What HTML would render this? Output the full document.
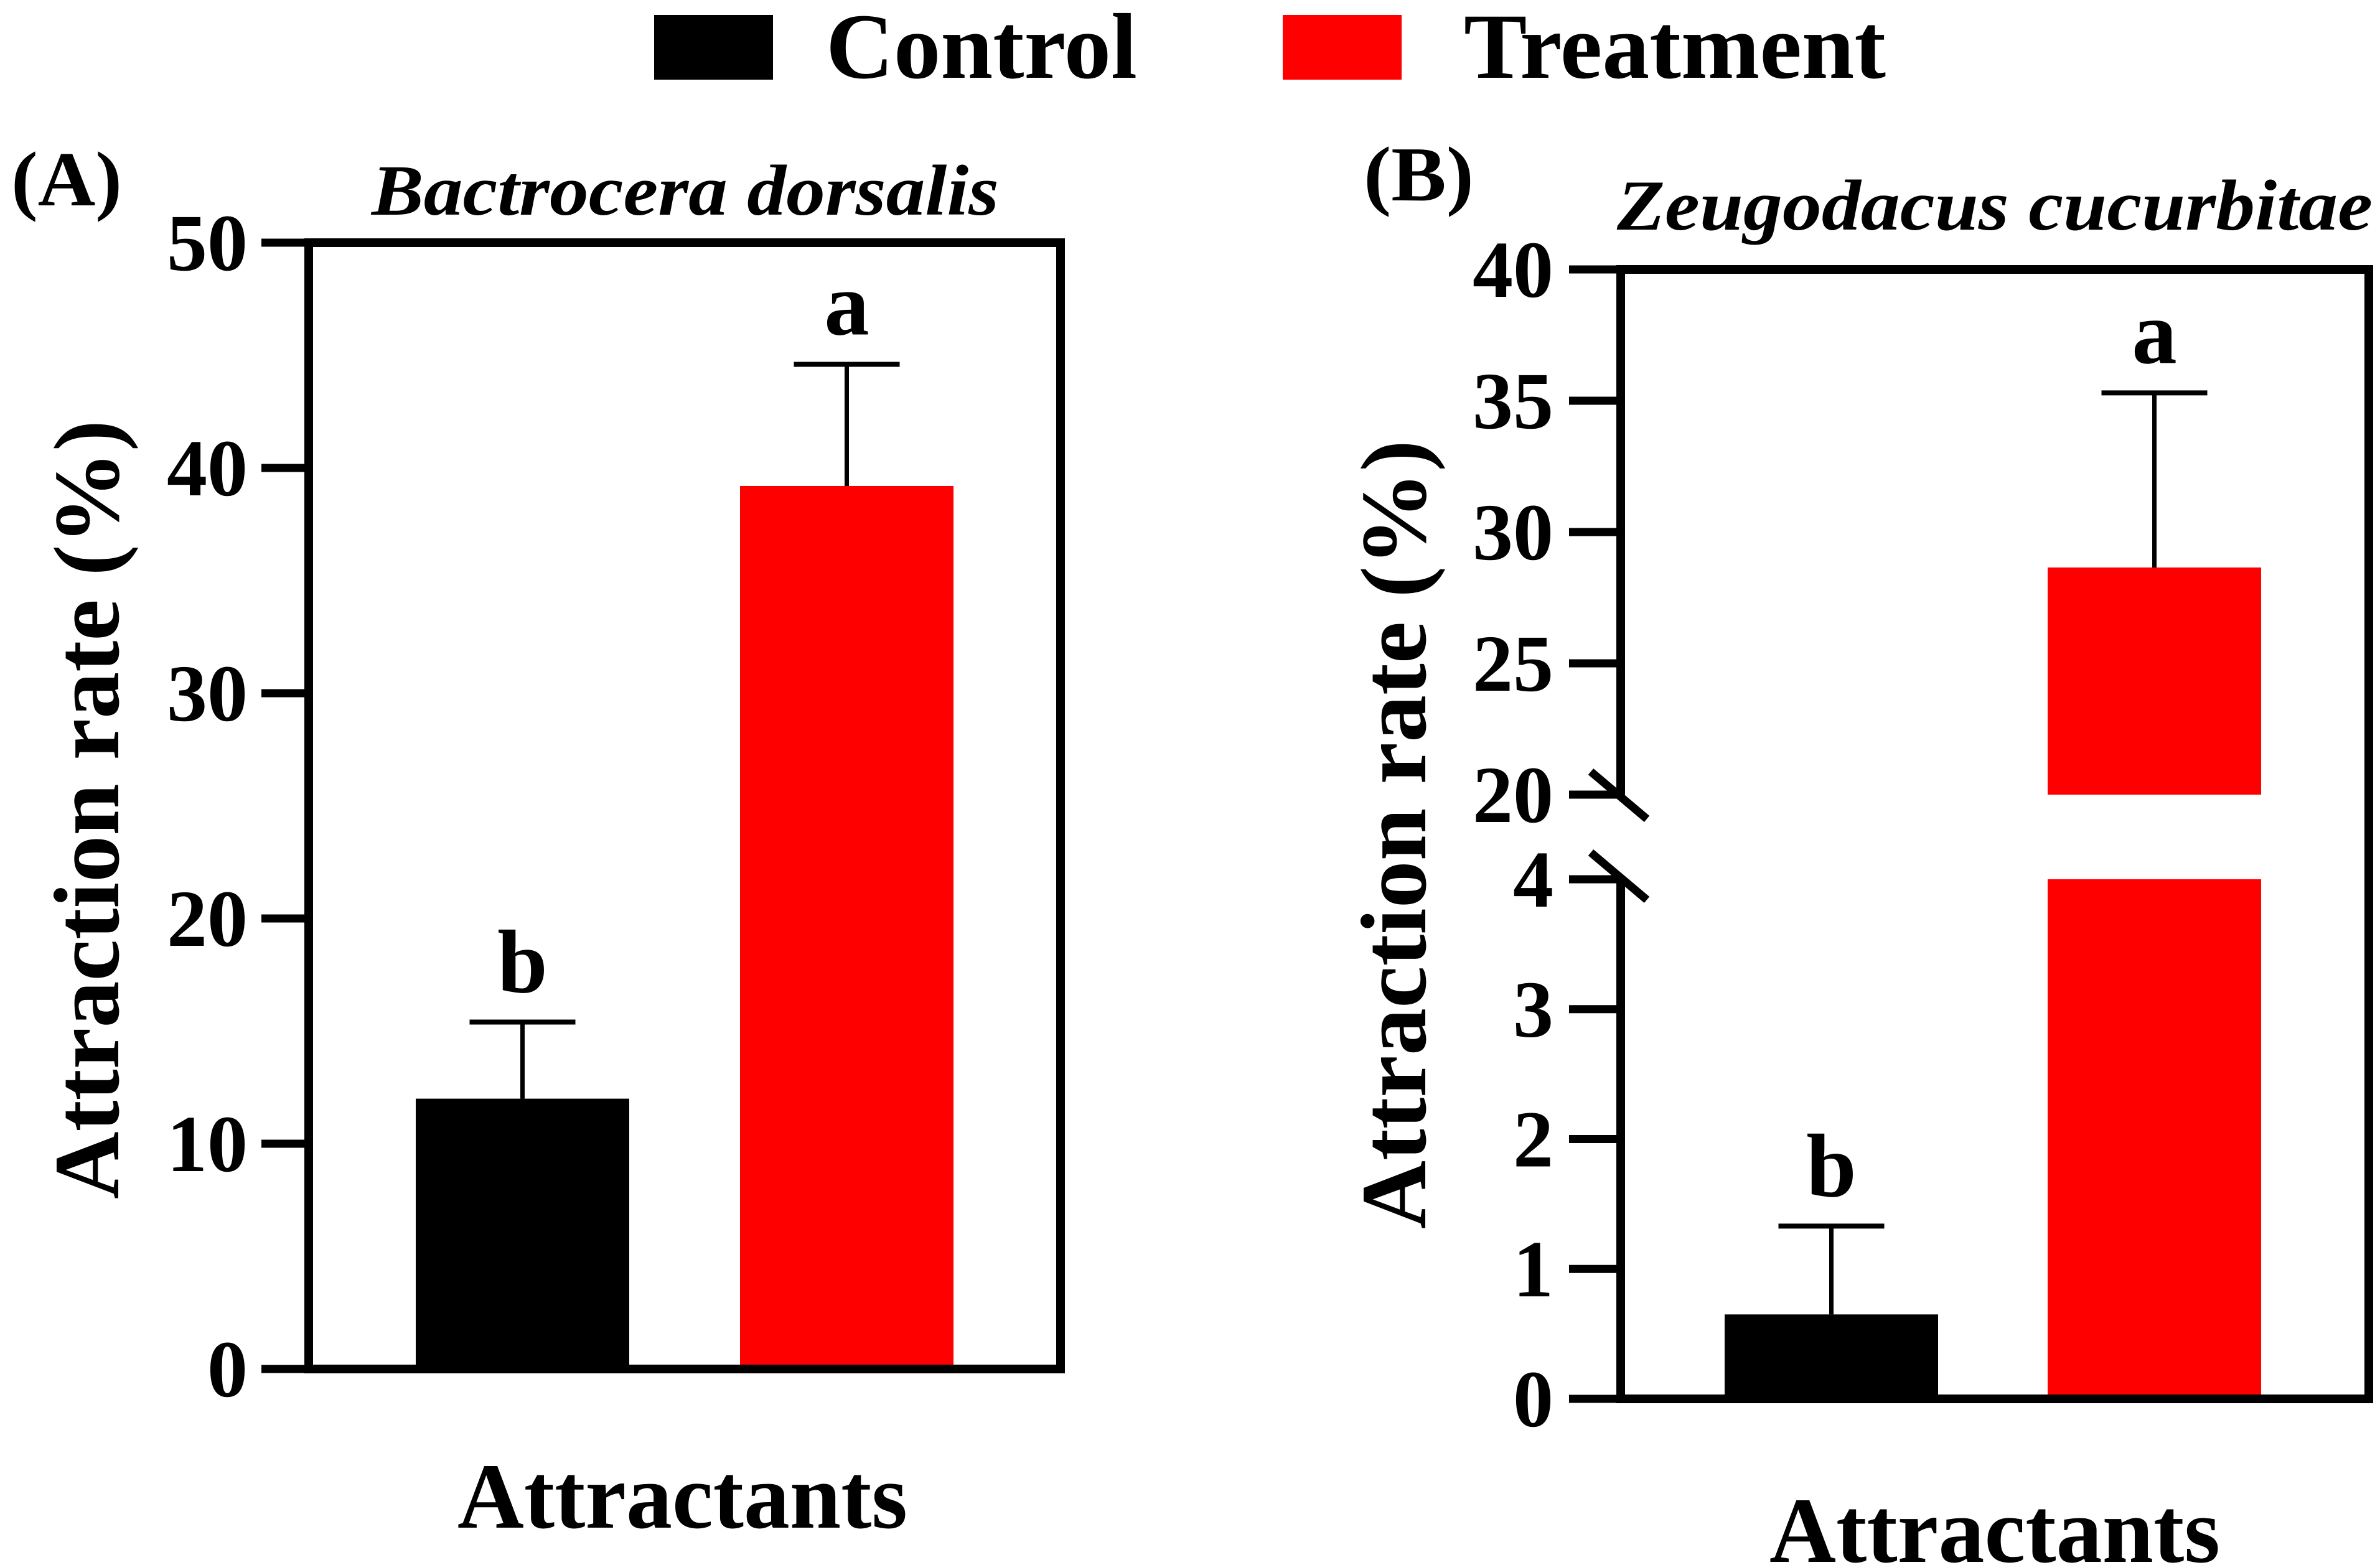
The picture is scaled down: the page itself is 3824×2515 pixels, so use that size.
<!DOCTYPE html>
<html><head><meta charset="utf-8"><style>
html,body{margin:0;padding:0;background:#fff}
svg{display:block}
text{font-family:"Liberation Serif",serif;font-weight:bold;fill:#000}
</style></head><body>
<svg id="chart" width="3824" height="2515" viewBox="0 0 3824 2515" xmlns="http://www.w3.org/2000/svg">
<g>
<rect x="1051" y="24" width="191" height="104" fill="#000"/>
<text x="1327" y="125" font-size="150" textLength="500" lengthAdjust="spacingAndGlyphs">Control</text>
<rect x="2061" y="24" width="191" height="104" fill="#f00"/>
<text x="2352" y="125" font-size="150" textLength="678" lengthAdjust="spacingAndGlyphs">Treatment</text>
</g>
<g id="panelA"></g>
<g id="panelB"></g>
</svg>
<script>
const NS='http://www.w3.org/2000/svg';
// Panel A data
const aCategories=['Control','Treatment'];
const aValues=[12,39.2];
const aErrors=[3.4,5.4];
const aLetters=['b','a'];
const aTicks=[0,10,20,30,40,50];
// Panel B data
const bCategories=['Control','Treatment'];
const bValues=[0.65,28.65];
const bErrors=[0.68,6.65];
const bLetters=['b','a'];
const bTicksLow=[0,1,2,3,4];
const bTicksHigh=[20,25,30,35,40];
const colors=['#000','#f00'];

function el(parent,tag,attrs,txt){const e=document.createElementNS(NS,tag);for(const k in attrs)e.setAttribute(k,attrs[k]);if(txt!==undefined)e.textContent=txt;parent.appendChild(e);return e;}

// ---------- Panel A ----------
(function(){
const g=document.getElementById('panelA');
const y=v=>2200-v*36.2;
const barX=[668,1189],barW=343;
let t=el(g,'text',{x:18,y:330,'font-size':125,textLength:178,lengthAdjust:'spacingAndGlyphs'},'(A)');


t=el(g,'text',{x:597,y:345,'font-size':115,'font-style':'italic',textLength:1008,lengthAdjust:'spacingAndGlyphs'},'Bactrocera dorsalis');


aCategories.forEach((c,i)=>{
 const v=aValues[i],top=y(v),cx=barX[i]+barW/2,et=y(v+aErrors[i]);
 let r=el(g,'rect',{x:barX[i],y:top,width:barW,height:y(0)-top,fill:colors[i]});
 
 
 let l=el(g,'line',{x1:cx,x2:cx,y1:top,y2:et,stroke:'#000','stroke-width':7});
 
 
 l=el(g,'line',{x1:cx-85,x2:cx+85,y1:et,y2:et,stroke:'#000','stroke-width':8});
 
 
 let s=el(g,'text',{x:cx,y:et-48,'font-size':145,'text-anchor':'middle'},aLetters[i]);
 
 
});
let f=el(g,'rect',{x:496,y:390,width:1208,height:1810,fill:'none',stroke:'#000','stroke-width':14});


aTicks.forEach(v=>{
 let l=el(g,'line',{x1:420,x2:496,y1:y(v),y2:y(v),stroke:'#000','stroke-width':13});
 
 
 let tx=el(g,'text',{x:398,y:y(v)+44,'font-size':130,'text-anchor':'end'},String(v));
 
 
});
t=el(g,'text',{x:0,y:0,'font-size':150,'text-anchor':'middle',transform:'translate(190,1301) rotate(-90)',textLength:1252,lengthAdjust:'spacingAndGlyphs'},'Attraction rate (%)');


t=el(g,'text',{x:735,y:2455,'font-size':150,textLength:723,lengthAdjust:'spacingAndGlyphs'},'Attractants');


})();

// ---------- Panel B (broken axis) ----------
(function(){
const g=document.getElementById('panelB');
const yLow=v=>2248-v*208.75;
const yHigh=v=>1277-(v-20)*42.2;
const y=v=>v<=4?yLow(v):yHigh(v);
const barX=[2771,3290],barW=343;
let t=el(g,'text',{x:2191,y:322,'font-size':125,textLength:177,lengthAdjust:'spacingAndGlyphs'},'(B)');


t=el(g,'text',{x:2598,y:369,'font-size':115,'font-style':'italic',textLength:1214,lengthAdjust:'spacingAndGlyphs'},'Zeugodacus cucurbitae');


bCategories.forEach((c,i)=>{
 const v=bValues[i],cx=barX[i]+barW/2,et=y(v+bErrors[i]);
 let top=y(v);
 if(v>4){
  let r=el(g,'rect',{x:barX[i],y:yLow(4),width:barW,height:yLow(0)-yLow(4),fill:colors[i]});
  
  
  r=el(g,'rect',{x:barX[i],y:top,width:barW,height:yHigh(20)-top,fill:colors[i]});
  
  
 } else {
  let r=el(g,'rect',{x:barX[i],y:top,width:barW,height:yLow(0)-top,fill:colors[i]});
  
  
 }
 let l=el(g,'line',{x1:cx,x2:cx,y1:top,y2:et,stroke:'#000','stroke-width':7});
 
 
 l=el(g,'line',{x1:cx-85,x2:cx+85,y1:et,y2:et,stroke:'#000','stroke-width':8});
 
 
 let s=el(g,'text',{x:cx,y:et-48,'font-size':145,'text-anchor':'middle'},bLetters[i]);
 
 
});
const L=2604,R=3806,T=yHigh(40),B=yLow(0);
let p=el(g,'path',{d:`M${L},${yHigh(20)} L${L},${T} L${R},${T} L${R},${B} L${L},${B} L${L},${yLow(4)}`,fill:'none',stroke:'#000','stroke-width':14});


let s1=el(g,'line',{x1:2556,y1:1240,x2:2646,y2:1316,stroke:'#000','stroke-width':13});


let s2=el(g,'line',{x1:2556,y1:1370,x2:2646,y2:1446,stroke:'#000','stroke-width':13});


bTicksLow.concat(bTicksHigh).forEach(v=>{
 let l=el(g,'line',{x1:2521,x2:L,y1:y(v),y2:y(v),stroke:'#000','stroke-width':13});
 
 
 let tx=el(g,'text',{x:2496,y:y(v)+44,'font-size':130,'text-anchor':'end'},String(v));
 
 
});
t=el(g,'text',{x:0,y:0,'font-size':150,'text-anchor':'middle',transform:'translate(2290,1341) rotate(-90)',textLength:1268,lengthAdjust:'spacingAndGlyphs'},'Attraction rate (%)');


t=el(g,'text',{x:2843,y:2510,'font-size':150,textLength:724,lengthAdjust:'spacingAndGlyphs'},'Attractants');


})();
</script>
</body></html>
